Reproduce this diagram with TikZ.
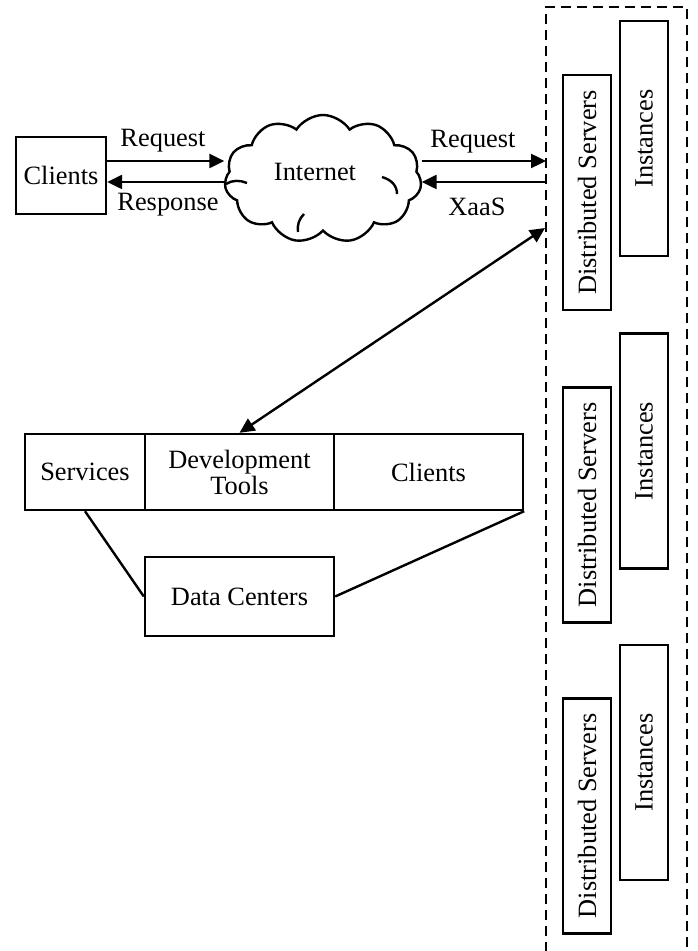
\documentclass[tikz,border=0pt]{standalone}
\usepackage{fontspec}
\setmainfont{Liberation Serif}
\usetikzlibrary{shapes.symbols,arrows.meta}
\begin{document}
\begin{tikzpicture}[x=0.5pt,y=-0.5pt,line width=1.2pt,
  font=\fontsize{13.2}{15}\selectfont,
  box/.style={draw,rectangle,inner sep=0pt,align=center},
  vbox/.style={box,rotate=90,minimum width=117.5pt,minimum height=24pt},
  lbl/.style={inner sep=0pt},
  tip/.tip={Triangle[length=7.5pt,width=7pt]},
  arr/.style={-tip},
  darr/.style={tip-tip},
  dash box/.style={draw,dash pattern=on 5pt off 3pt}]
\useasboundingbox (0,0) rectangle (697,951);

% client side and the internet
\node[box,minimum width=45pt,minimum height=38.5pt] (cli) at (61,175.5) {Clients};
\node[cloud,draw,cloud puffs=11,cloud puff arc=115,aspect=1.5,
      minimum width=98.5pt,minimum height=64pt,inner sep=0pt] (net) at (323,179) {};
\node[lbl] (nettxt) at (315,172) {Internet};
% inner folds of the cloud
\draw (226,184) .. controls (232,180) and (240,180) .. (247,183);
\draw (382,177) .. controls (392,180) and (397,186) .. (397,194);
\draw (298,232) .. controls (297,225) and (299,219) .. (304,214);

% server side, dashed frame
\begin{scope}
\clip (0,0) rectangle (697,951);
\draw[dash box] (546,1000) -- (546,7) -- (687,7) -- (687,1000);
\end{scope}
\coordinate (frameL) at (546,7);
\coordinate (upper) at (0,161);
\coordinate (lower) at (0,182);
\coordinate (link) at (545,228);

\node[vbox] (ds1) at (587,192.5) {Distributed Servers};
\node[vbox] (in1) at (644,138.5) {Instances};
\node[vbox] (ds2) at (587,505) {Distributed Servers};
\node[vbox] (in2) at (644,451) {Instances};
\node[vbox] (ds3) at (587,816) {Distributed Servers};
\node[vbox] (in3) at (644,762.5) {Instances};

% request / response arrows
\draw[arr] (cli.east |- upper) -- (net.west |- upper);
\draw[arr] (net.west |- lower) -- (cli.east |- lower);
\draw[arr] (net.east |- upper) -- (frameL |- upper);
\draw[arr] (frameL |- lower) -- (net.east |- lower);
\node[lbl] (req1) at (163,141) {Request};
\node[lbl] (resp) at (168,205) {Response};
\node[lbl] (req2) at (473,142) {Request};
\node[lbl] (xaas) at (477,207) {XaaS};

% platform row
\node[box,minimum width=60pt,minimum height=38pt] (svc) at (85,472) {Services};
\node[box,minimum width=94.5pt,minimum height=38pt] (dev) at (239.5,472) {Development\\[-2pt]Tools};
\node[box,minimum width=94.5pt,minimum height=38pt] (cl2) at (428.5,472) {Clients};
\node[box,minimum width=94.5pt,minimum height=39.5pt] (dc) at (239.5,596.5) {Data Centers};

\draw[darr] (dev.north) -- (link);
\draw (svc.south) -- (dc.west);
\draw (cl2.south east) -- (dc.east);
\end{tikzpicture}
\end{document}
